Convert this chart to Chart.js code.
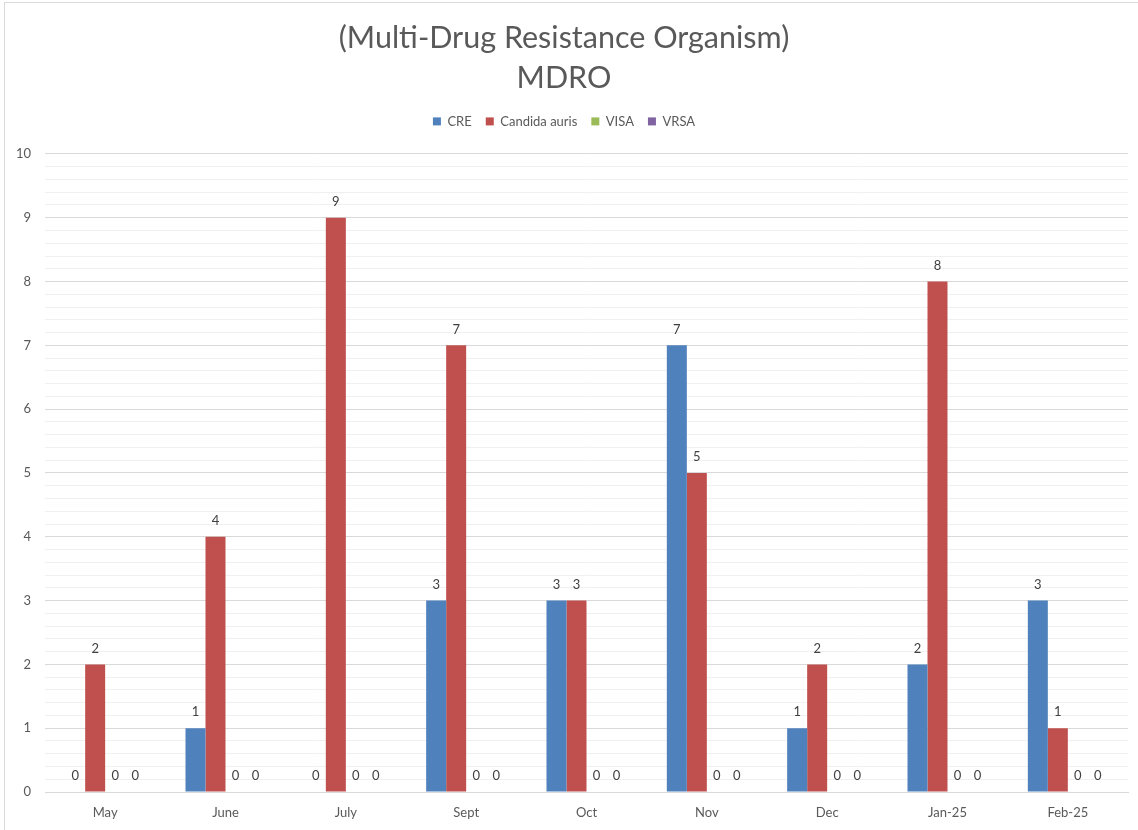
<!DOCTYPE html>
<html>
<head>
<meta charset="utf-8">
<script src="https://cdn.jsdelivr.net/npm/chart.js@4.4.1/dist/chart.umd.min.js"></script>
<style>
  html, body { margin: 0; padding: 0; background: #fff; }
  #wrap { position: relative; width: 1138px; height: 830px; overflow: hidden; }
  #frame { position: absolute; left: 4px; top: 2px; width: 1160px; height: 860px; border: 1px solid #d9d9d9; box-sizing: border-box; }
  #chart-mdro { position: absolute; left: 0; top: 0; }
</style>
</head>
<body>
<div id="wrap">
  <div id="frame"></div>
  <canvas id="chart-mdro" width="1138" height="830"></canvas>
</div>
<script>
  const MONTHS = ['May', 'June', 'July', 'Sept', 'Oct', 'Nov', 'Dec', 'Jan-25', 'Feb-25'];
  const CRE = [0, 1, 0, 3, 3, 7, 1, 2, 3];
  const CANDIDA_AURIS = [2, 4, 9, 7, 3, 5, 2, 8, 1];
  const VISA = [0, 0, 0, 0, 0, 0, 0, 0, 0];
  const VRSA = [0, 0, 0, 0, 0, 0, 0, 0, 0];
  const TITLE_LINES = ['(Multi-Drug Resistance Organism)', 'MDRO'];

  const FONT = 'Lato, "Open Sans", sans-serif';
  const TEXT = '#595959';

  const isWhole = (v) => Math.abs(v - Math.round(v)) < 1e-6;

  // draws the value over each bar, including the zero ones
  const barValues = {
    id: 'barValues',
    afterDatasetsDraw(chart) {
      const ctx = chart.ctx;
      ctx.save();
      ctx.fillStyle = '#404040';
      ctx.font = '13px ' + FONT;
      ctx.textAlign = 'center';
      ctx.textBaseline = 'middle';
      chart.data.datasets.forEach((ds, i) => {
        const meta = chart.getDatasetMeta(i);
        if (meta.hidden) return;
        meta.data.forEach((bar, j) => {
          ctx.fillText(String(ds.data[j]), bar.x, bar.y - 16);
        });
      });
      ctx.restore();
    },
  };

  // extra room under the legend
  const legendGap = {
    id: 'legendGap',
    beforeInit(chart) {
      const fit = chart.legend.fit;
      chart.legend.fit = function () {
        fit.call(this);
        this.height += 16;
      };
    },
  };

  function series(label, data, color) {
    return {
      label,
      data,
      backgroundColor: color,
      borderWidth: 0,
      categoryPercentage: 0.665,
      barPercentage: 1.0,
    };
  }

  new Chart(document.getElementById('chart-mdro'), {
    type: 'bar',
    data: {
      labels: MONTHS,
      datasets: [
        series('CRE', CRE, '#4F81BD'),
        series('Candida auris', CANDIDA_AURIS, '#C0504D'),
        series('VISA', VISA, '#9BBB59'),
        series('VRSA', VRSA, '#8064A2'),
      ],
    },
    options: {
      responsive: false,
      animation: false,
      layout: { padding: { top: 0, right: 10, bottom: 0, left: 0 } },
      plugins: {
        title: {
          display: true,
          text: TITLE_LINES,
          color: TEXT,
          font: { family: FONT, size: 30.5, weight: 'normal', lineHeight: 1.31 },
          padding: { top: 18, bottom: 3 },
        },
        legend: {
          position: 'top',
          labels: {
            color: TEXT,
            font: { family: FONT, size: 13 },
            boxWidth: 8,
            boxHeight: 8,
            padding: 14,
          },
        },
        tooltip: { enabled: false },
      },
      scales: {
        x: {
          grid: { display: false },
          border: { color: '#d9d9d9' },
          ticks: { color: TEXT, font: { family: FONT, size: 13 }, padding: 5 },
          afterFit(scale) { scale.height = 38; },
        },
        y: {
          min: 0,
          max: 10,
          ticks: {
            stepSize: 0.2,
            autoSkip: false,
            color: TEXT,
            font: { family: FONT, size: 13 },
            padding: 14,
            callback: (v) => (isWhole(v) ? String(Math.round(v)) : ''),
          },
          grid: {
            drawTicks: false,
            color: (c) => (isWhole(c.tick.value) ? '#d9d9d9' : '#f0f0f0'),
          },
          border: { display: false },
          afterFit(scale) { scale.width = 45; },
        },
      },
    },
    plugins: [barValues, legendGap],
  });
</script>
</body>
</html>
